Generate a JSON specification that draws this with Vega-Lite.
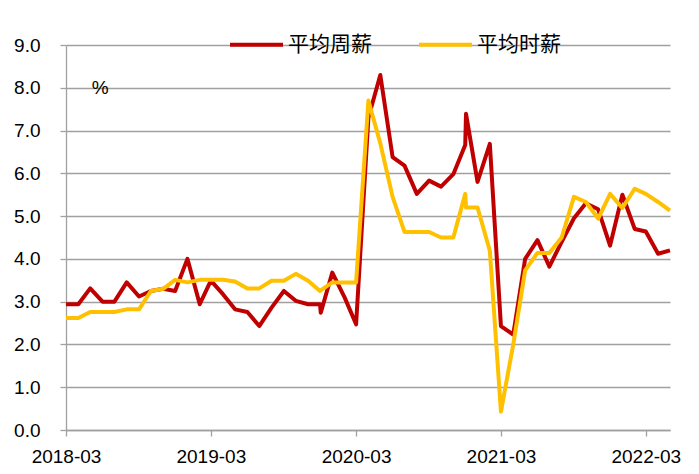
{
  "$schema": "https://vega.github.io/schema/vega-lite/v6.json",
  "width": 604,
  "height": 385,
  "autosize": {"type": "none"},
  "padding": {"left": 66, "top": 45, "right": 29, "bottom": 44},
  "background": "white",
  "config": {"view": {"stroke": null}, "font": "Liberation Sans"},
  "datasets": {
    "wages": [
      {"date": "2018-03-01", "series": "平均周薪", "value": 2.94},
      {"date": "2018-04-01", "series": "平均周薪", "value": 2.94},
      {"date": "2018-05-01", "series": "平均周薪", "value": 3.31},
      {"date": "2018-06-01", "series": "平均周薪", "value": 3.0},
      {"date": "2018-07-01", "series": "平均周薪", "value": 3.0},
      {"date": "2018-08-01", "series": "平均周薪", "value": 3.45},
      {"date": "2018-09-01", "series": "平均周薪", "value": 3.12},
      {"date": "2018-10-01", "series": "平均周薪", "value": 3.25},
      {"date": "2018-11-01", "series": "平均周薪", "value": 3.3},
      {"date": "2018-12-01", "series": "平均周薪", "value": 3.25},
      {"date": "2019-01-01", "series": "平均周薪", "value": 4.0},
      {"date": "2019-02-01", "series": "平均周薪", "value": 2.94},
      {"date": "2019-03-01", "series": "平均周薪", "value": 3.49},
      {"date": "2019-04-01", "series": "平均周薪", "value": 3.17},
      {"date": "2019-05-01", "series": "平均周薪", "value": 2.82},
      {"date": "2019-06-01", "series": "平均周薪", "value": 2.76},
      {"date": "2019-07-01", "series": "平均周薪", "value": 2.43},
      {"date": "2019-08-01", "series": "平均周薪", "value": 2.86},
      {"date": "2019-09-01", "series": "平均周薪", "value": 3.25},
      {"date": "2019-10-01", "series": "平均周薪", "value": 3.02},
      {"date": "2019-11-01", "series": "平均周薪", "value": 2.94},
      {"date": "2019-12-01", "series": "平均周薪", "value": 2.94},
      {"date": "2019-12-03", "series": "平均周薪", "value": 2.74},
      {"date": "2020-01-01", "series": "平均周薪", "value": 3.68},
      {"date": "2020-02-01", "series": "平均周薪", "value": 3.1},
      {"date": "2020-03-01", "series": "平均周薪", "value": 2.47},
      {"date": "2020-04-01", "series": "平均周薪", "value": 7.3},
      {"date": "2020-05-01", "series": "平均周薪", "value": 8.3},
      {"date": "2020-06-01", "series": "平均周薪", "value": 6.38},
      {"date": "2020-07-01", "series": "平均周薪", "value": 6.18},
      {"date": "2020-08-01", "series": "平均周薪", "value": 5.52},
      {"date": "2020-09-01", "series": "平均周薪", "value": 5.83},
      {"date": "2020-10-01", "series": "平均周薪", "value": 5.69},
      {"date": "2020-11-01", "series": "平均周薪", "value": 5.98},
      {"date": "2020-12-01", "series": "平均周薪", "value": 6.66},
      {"date": "2020-12-03", "series": "平均周薪", "value": 7.39},
      {"date": "2021-01-01", "series": "平均周薪", "value": 5.8},
      {"date": "2021-02-01", "series": "平均周薪", "value": 6.69},
      {"date": "2021-03-01", "series": "平均周薪", "value": 2.43},
      {"date": "2021-04-01", "series": "平均周薪", "value": 2.23},
      {"date": "2021-05-01", "series": "平均周薪", "value": 4.0},
      {"date": "2021-06-01", "series": "平均周薪", "value": 4.44},
      {"date": "2021-07-01", "series": "平均周薪", "value": 3.82},
      {"date": "2021-08-01", "series": "平均周薪", "value": 4.4},
      {"date": "2021-09-01", "series": "平均周薪", "value": 4.95},
      {"date": "2021-10-01", "series": "平均周薪", "value": 5.3},
      {"date": "2021-11-01", "series": "平均周薪", "value": 5.16},
      {"date": "2021-12-01", "series": "平均周薪", "value": 4.31},
      {"date": "2022-01-01", "series": "平均周薪", "value": 5.5},
      {"date": "2022-02-01", "series": "平均周薪", "value": 4.7},
      {"date": "2022-03-01", "series": "平均周薪", "value": 4.64},
      {"date": "2022-04-01", "series": "平均周薪", "value": 4.12},
      {"date": "2022-05-01", "series": "平均周薪", "value": 4.2},
      {"date": "2018-03-01", "series": "平均时薪", "value": 2.62},
      {"date": "2018-04-01", "series": "平均时薪", "value": 2.62},
      {"date": "2018-05-01", "series": "平均时薪", "value": 2.76},
      {"date": "2018-06-01", "series": "平均时薪", "value": 2.76},
      {"date": "2018-07-01", "series": "平均时薪", "value": 2.76},
      {"date": "2018-08-01", "series": "平均时薪", "value": 2.82},
      {"date": "2018-09-01", "series": "平均时薪", "value": 2.82},
      {"date": "2018-10-01", "series": "平均时薪", "value": 3.25},
      {"date": "2018-11-01", "series": "平均时薪", "value": 3.3},
      {"date": "2018-12-01", "series": "平均时薪", "value": 3.51},
      {"date": "2019-01-01", "series": "平均时薪", "value": 3.45},
      {"date": "2019-02-01", "series": "平均时薪", "value": 3.51},
      {"date": "2019-03-01", "series": "平均时薪", "value": 3.51},
      {"date": "2019-04-01", "series": "平均时薪", "value": 3.51},
      {"date": "2019-05-01", "series": "平均时薪", "value": 3.47},
      {"date": "2019-06-01", "series": "平均时薪", "value": 3.31},
      {"date": "2019-07-01", "series": "平均时薪", "value": 3.31},
      {"date": "2019-08-01", "series": "平均时薪", "value": 3.49},
      {"date": "2019-09-01", "series": "平均时薪", "value": 3.49},
      {"date": "2019-10-01", "series": "平均时薪", "value": 3.65},
      {"date": "2019-11-01", "series": "平均时薪", "value": 3.49},
      {"date": "2019-12-01", "series": "平均时薪", "value": 3.25},
      {"date": "2020-01-01", "series": "平均时薪", "value": 3.45},
      {"date": "2020-02-01", "series": "平均时薪", "value": 3.45},
      {"date": "2020-03-01", "series": "平均时薪", "value": 3.45},
      {"date": "2020-04-01", "series": "平均时薪", "value": 7.7},
      {"date": "2020-05-01", "series": "平均时薪", "value": 6.7},
      {"date": "2020-06-01", "series": "平均时薪", "value": 5.45},
      {"date": "2020-07-01", "series": "平均时薪", "value": 4.63},
      {"date": "2020-08-01", "series": "平均时薪", "value": 4.63},
      {"date": "2020-09-01", "series": "平均时薪", "value": 4.63},
      {"date": "2020-10-01", "series": "平均时薪", "value": 4.5},
      {"date": "2020-11-01", "series": "平均时薪", "value": 4.5},
      {"date": "2020-12-01", "series": "平均时薪", "value": 5.52},
      {"date": "2020-12-03", "series": "平均时薪", "value": 5.2},
      {"date": "2021-01-01", "series": "平均时薪", "value": 5.2},
      {"date": "2021-02-01", "series": "平均时薪", "value": 4.19},
      {"date": "2021-03-01", "series": "平均时薪", "value": 0.43},
      {"date": "2021-04-01", "series": "平均时薪", "value": 2.0},
      {"date": "2021-05-01", "series": "平均时薪", "value": 3.73},
      {"date": "2021-06-01", "series": "平均时薪", "value": 4.14},
      {"date": "2021-07-01", "series": "平均时薪", "value": 4.14},
      {"date": "2021-08-01", "series": "平均时薪", "value": 4.5},
      {"date": "2021-09-01", "series": "平均时薪", "value": 5.45},
      {"date": "2021-10-01", "series": "平均时薪", "value": 5.33},
      {"date": "2021-11-01", "series": "平均时薪", "value": 4.94},
      {"date": "2021-12-01", "series": "平均时薪", "value": 5.52},
      {"date": "2022-01-01", "series": "平均时薪", "value": 5.19},
      {"date": "2022-02-01", "series": "平均时薪", "value": 5.64},
      {"date": "2022-03-01", "series": "平均时薪", "value": 5.52},
      {"date": "2022-04-01", "series": "平均时薪", "value": 5.33},
      {"date": "2022-05-01", "series": "平均时薪", "value": 5.13}
    ],
    "unit": [
      {"date": "2018-05-26", "value": 8.0, "label": "%"}
    ]
  },
  "encoding": {
    "x": {
      "field": "date",
      "type": "temporal",
      "scale": {
        "type": "utc",
        "nice": false,
        "domain": [
          {"year": 2018, "month": 3, "date": 1, "utc": true},
          {"year": 2022, "month": 5, "date": 1, "utc": true}
        ]
      },
      "axis": {
        "values": [
          {"year": 2018, "month": 3, "date": 1, "utc": true},
          {"year": 2019, "month": 3, "date": 1, "utc": true},
          {"year": 2020, "month": 3, "date": 1, "utc": true},
          {"year": 2021, "month": 3, "date": 1, "utc": true},
          {"year": 2022, "month": 3, "date": 1, "utc": true}
        ],
        "labelExpr": "utcFormat(datum.value, '%Y-%m')",
        "title": null,
        "grid": false,
        "domainColor": "#a0a0a0",
        "domainWidth": 1.3,
        "tickColor": "#a0a0a0",
        "tickWidth": 1.3,
        "tickSize": 6,
        "labelFontSize": 19,
        "labelColor": "#000000",
        "labelPadding": 11,
        "labelFlush": false,
        "labelOverlap": false
      }
    },
    "y": {
      "field": "value",
      "type": "quantitative",
      "scale": {"domain": [0, 9], "nice": false},
      "axis": {
        "values": [0, 1, 2, 3, 4, 5, 6, 7, 8, 9],
        "format": ".1f",
        "title": null,
        "grid": true,
        "gridColor": "#a0a0a0",
        "gridWidth": 1.3,
        "domainColor": "#a0a0a0",
        "domainWidth": 1.3,
        "tickColor": "#a0a0a0",
        "tickWidth": 1.3,
        "tickSize": 6,
        "labelFontSize": 19,
        "labelColor": "#000000",
        "labelPadding": 20
      }
    }
  },
  "layer": [
    {
      "data": {"name": "wages"},
      "mark": {"type": "line", "strokeWidth": 4, "strokeJoin": "round"},
      "encoding": {
        "color": {
          "field": "series",
          "type": "nominal",
          "scale": {"domain": ["平均周薪", "平均时薪"], "range": ["#C00000", "#FFC000"]},
          "legend": {
            "orient": "none",
            "legendX": 162,
            "legendY": -29,
            "direction": "horizontal",
            "title": null,
            "symbolType": "stroke",
            "symbolSize": 2809,
            "symbolStrokeWidth": 4,
            "labelFont": "Noto Sans CJK SC",
            "labelFontSize": 21,
            "labelColor": "#000000",
            "labelOffset": 3,
            "columnPadding": 39,
            "padding": 0
          }
        }
      }
    },
    {
      "data": {"name": "unit"},
      "mark": {"type": "text", "fontSize": 19, "align": "center", "baseline": "middle", "color": "#000000"},
      "encoding": {
        "text": {"field": "label"}
      }
    }
  ]
}
